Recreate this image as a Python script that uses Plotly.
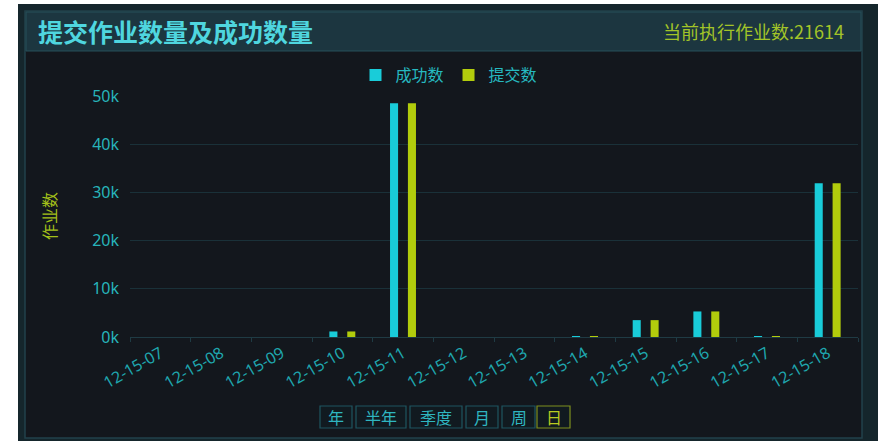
import plotly.graph_objects as go

# Hourly job counts (2012-15 day view)
categories = ["12-15-07", "12-15-08", "12-15-09", "12-15-10", "12-15-11", "12-15-12",
              "12-15-13", "12-15-14", "12-15-15", "12-15-16", "12-15-17", "12-15-18"]
success_counts = [0, 0, 0, 1150, 48500, 0, 0, 150, 3500, 5300, 150, 31900]
submit_counts = [0, 0, 0, 1150, 48500, 0, 0, 150, 3500, 5300, 150, 31900]
y_tick_values = [0, 10000, 20000, 30000, 40000, 50000]
y_tick_labels = ["0k", "10k", "20k", "30k", "40k", "50k"]
period_buttons = ["年", "半年", "季度", "月", "周", "日"]
running_jobs = 21614

W, H = 878, 441
ML, MR, MT, MB = 130, 20, 96, 104
PW, PH = W - ML - MR, H - MT - MB

CYAN = "#19ccd9"
LIME = "#b2cc0c"
TEXT_CYAN = "#26b9c0"
FRAME = "#15262c"
FONT = "Noto Sans CJK SC, Noto Sans, sans-serif"


def px_x(x):
    return (x - ML) / PW


def px_y(y):
    return (H - MB - y) / PH


fig = go.Figure()
fig.add_trace(go.Bar(name="成功数", x=categories, y=success_counts,
                     marker=dict(color=CYAN, line=dict(width=0))))
fig.add_trace(go.Bar(name="提交数", x=categories, y=submit_counts,
                     marker=dict(color=LIME, line=dict(width=0))))

shapes = []


def rect(x0, y0, x1, y1, fill, line_color=None, line_width=0, layer="below"):
    shapes.append(dict(type="rect", xref="paper", yref="paper",
                       x0=px_x(x0), x1=px_x(x1), y0=px_y(y1), y1=px_y(y0),
                       fillcolor=fill,
                       line=dict(color=line_color or fill, width=line_width),
                       layer=layer))


# white page edge on the left and top, then panel body and title bar
rect(0, 0, 18, 441, "#ffffff")
rect(0, 0, 878, 4, "#ffffff")
rect(25, 11, 862, 438, "#13171d", "#22414b", 1.5)
rect(26, 12, 861, 51, "#1c3640", "#27505b", 1)

annotations = [
    dict(text="<b>提交作业数量及成功数量</b>", x=px_x(36), y=px_y(31),
         xref="paper", yref="paper", xanchor="left", yanchor="middle",
         showarrow=False, font=dict(family=FONT, size=25, color="#4fd6df")),
    dict(text=f"当前执行作业数:{running_jobs}", x=px_x(846), y=px_y(31),
         xref="paper", yref="paper", xanchor="right", yanchor="middle",
         showarrow=False, font=dict(family=FONT, size=18, color="#a3c428")),
    dict(text="作业数", x=px_x(49), y=px_y(216), textangle=-90,
         xref="paper", yref="paper", xanchor="center", yanchor="middle",
         showarrow=False, font=dict(family=FONT, size=16, color="#a3c01a")),
]

# period selector buttons
button_edges = [(320, 352), (356, 406), (410, 462), (466, 498), (502, 535), (537, 570)]
for label, (bx0, bx1) in zip(period_buttons, button_edges):
    active = label == "日"
    border = "#7e8f1e" if active else "#1f5560"
    rect(bx0, 406, bx1, 428, "#111a20", border, 1.2, layer="above")
    annotations.append(dict(text=label, x=px_x((bx0 + bx1) / 2), y=px_y(417),
                            xref="paper", yref="paper", xanchor="center",
                            yanchor="middle", showarrow=False,
                            font=dict(family=FONT, size=16,
                                      color="#b9cc20" if active else "#2fb6c0")))

fig.update_layout(
    width=W, height=H,
    margin=dict(l=ML, r=MR, t=MT, b=MB, pad=0),
    paper_bgcolor=FRAME,
    plot_bgcolor="rgba(0,0,0,0)",
    barmode="group", bargap=0.41, bargroupgap=0.55,
    showlegend=True,
    legend=dict(orientation="h", x=px_x(449), y=px_y(75), xanchor="center",
                yanchor="middle", font=dict(family=FONT, size=16, color=TEXT_CYAN),
                bgcolor="rgba(0,0,0,0)", itemwidth=30, tracegroupgap=0,
                itemclick=False),
    shapes=shapes,
    annotations=annotations,
    xaxis=dict(type="category", tickangle=-30, showgrid=False,
               tickfont=dict(family="Noto Sans, DejaVu Sans, sans-serif", size=16,
                             color="#1fa6ae"),
               showline=True, linecolor="#1f3b44", linewidth=1,
               ticks="outside", ticklen=4, tickcolor="#1f3b44", tickson="boundaries",
               zeroline=False),
    yaxis=dict(range=[0, 50000], tickvals=y_tick_values, ticktext=y_tick_labels,
               tickfont=dict(family="Noto Sans, DejaVu Sans, sans-serif", size=16,
                             color="#27b4ba"),
               showgrid=True, gridcolor="#1a3139", gridwidth=1,
               zeroline=False, showline=False, ticks="", ticklabelstandoff=10),
)

fig.write_html(
    "out.html",
    config={"displayModeBar": False},
    post_script="document.body.style.margin='0';document.body.style.overflow='hidden';",
)
